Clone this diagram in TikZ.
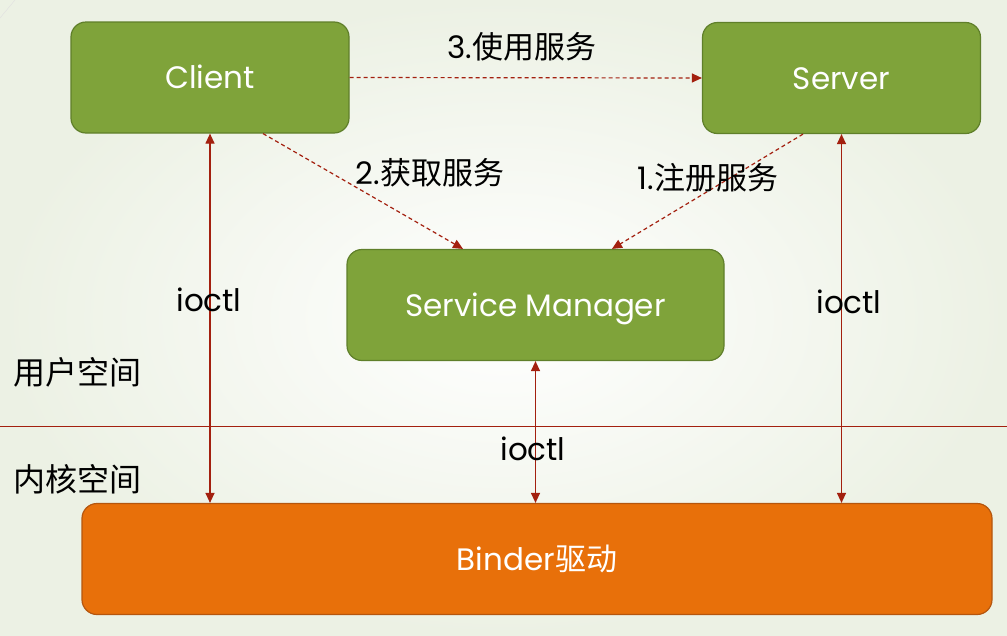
\documentclass[tikz,border=0pt]{standalone}
\usepackage{fontspec}
\setmainfont{Poppins}
\newfontfamily\cjk{Noto Sans CJK SC}
\usetikzlibrary{arrows.meta,calc}
\definecolor{boxgreen}{HTML}{7FA33A}
\definecolor{boxgreenline}{HTML}{5F7F2A}
\definecolor{binderorange}{HTML}{E8700A}
\definecolor{binderline}{HTML}{B5560E}
\definecolor{linkred}{HTML}{A3200F}
\definecolor{bgtint}{HTML}{ECF1E4}

\begin{document}
\begin{tikzpicture}[x=1pt, y=-1pt,
  svc/.style={draw=boxgreenline, fill=boxgreen, line width=1.2pt, rounded corners=15pt, text=white,
    font=\fontsize{31}{36}\selectfont, text height=22pt, text depth=0pt, minimum width=278pt, minimum height=111pt},
  drv/.style={svc, draw=binderline, fill=binderorange},
  call/.style={{Triangle[length=10pt,width=9pt]}-{Triangle[length=10pt,width=9pt]}, linkred, line width=1.2pt},
  req/.style={-{Triangle[length=10pt,width=9pt]}, linkred, line width=1.2pt, dash pattern=on 4pt off 3pt},
  lbl/.style={font=\fontsize{31}{36}\selectfont, inner sep=0pt}]
\useasboundingbox (0,0) rectangle (1007,635);
\shade[inner color=white, outer color=bgtint] (0,0) rectangle (1007,635);
\draw[black!12] (0,18) -- (15,0);

\node[svc] (cl) at (210,77.5) {Client};
\node[svc] (sv) at (841.5,78) {Server};
\node[svc, minimum width=377pt] (sm) at (535.5,305) {Service Manager};
\node[drv, minimum width=910pt] (bd) at (537,559) {Binder{\cjk 驱动}};

% user / kernel split
\draw[linkred, line width=1pt] (0,426) -- (1007,426);
\node[lbl, anchor=west, font=\fontsize{32}{36}\selectfont] (us) at (13,372) {\cjk 用户空间};
\node[lbl, anchor=west, font=\fontsize{32}{36}\selectfont] (ks) at (13,479) {\cjk 内核空间};

\draw[req] (cl.east) -- (sv.west);
\draw[req] ([xshift=53pt]cl.south) -- ([xshift=-72.5pt]sm.north);
\draw[req] ([xshift=-38.5pt]sv.south) -- ([xshift=76.5pt]sm.north);
\node[lbl] (u3) at (522,47) {3.{\cjk 使用服务}};
\node[lbl] (g2) at (430,173) {2.{\cjk 获取服务}};
\node[lbl] (r1) at (708,178) {1.{\cjk 注册服务}};

\draw[call] (cl.south) -- (cl.south |- bd.north);
\draw[call] (sv.south) -- (sv.south |- bd.north);
\draw[call] (sm.south) -- (sm.south |- bd.north);
\node[lbl] (io1) at (209,300) {ioctl};
\node[lbl] (io2) at (849,302) {ioctl};
\node[lbl] (io3) at (533,449) {ioctl};
\end{tikzpicture}
\end{document}
